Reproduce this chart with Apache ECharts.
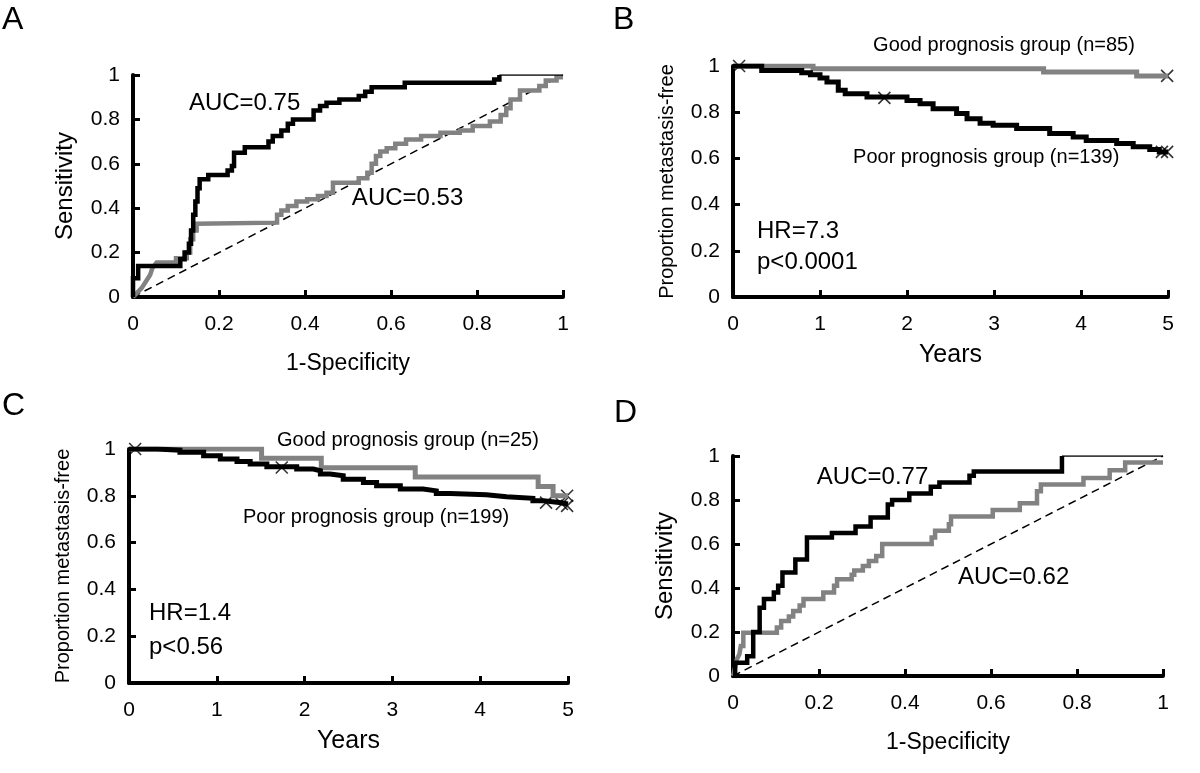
<!DOCTYPE html>
<html>
<head>
<meta charset="utf-8">
<script src="https://cdn.jsdelivr.net/npm/echarts@6/dist/echarts.min.js"></script>
<style>
html,body{margin:0;padding:0;background:#fff;}
#c{width:1200px;height:773px;}
</style>
</head>
<body>
<div id="c"></div>
<script>
// ---------- DATA ----------
// Panel A: ROC curves (1-Specificity, Sensitivity)
const rocA_black = [[0,0],[0,0.085],[0.012,0.085],[0.012,0.14],[0.11,0.14],[0.11,0.17],[0.12,0.17],[0.12,0.2],[0.13,0.2],[0.13,0.24],[0.135,0.24],[0.135,0.3],[0.14,0.3],[0.14,0.37],[0.145,0.37],[0.145,0.43],[0.15,0.43],[0.15,0.49],[0.155,0.49],[0.155,0.53],[0.175,0.53],[0.175,0.55],[0.22,0.55],[0.22,0.57],[0.23,0.57],[0.23,0.59],[0.235,0.59],[0.235,0.65],[0.26,0.65],[0.26,0.675],[0.315,0.675],[0.315,0.7],[0.325,0.7],[0.325,0.725],[0.345,0.725],[0.345,0.75],[0.36,0.75],[0.36,0.78],[0.372,0.78],[0.372,0.8],[0.42,0.8],[0.42,0.84],[0.435,0.84],[0.435,0.86],[0.45,0.86],[0.45,0.875],[0.48,0.875],[0.48,0.89],[0.525,0.89],[0.525,0.905],[0.54,0.905],[0.54,0.925],[0.555,0.925],[0.555,0.945],[0.632,0.945],[0.632,0.965],[0.84,0.965],[0.84,0.98],[0.852,0.98],[0.852,1.0]];
const rocA_blackTail = [[0.852,1.0],[1,1]];
const rocA_gray = [[0,0],[0.01,0.02],[0.02,0.04],[0.03,0.07],[0.04,0.1],[0.045,0.13],[0.055,0.155],[0.1,0.155],[0.1,0.175],[0.125,0.175],[0.125,0.2],[0.133,0.2],[0.133,0.26],[0.14,0.26],[0.14,0.3],[0.148,0.3],[0.148,0.33],[0.335,0.335],[0.335,0.37],[0.345,0.37],[0.345,0.39],[0.36,0.39],[0.36,0.41],[0.38,0.41],[0.38,0.43],[0.405,0.43],[0.405,0.44],[0.43,0.44],[0.43,0.455],[0.45,0.455],[0.45,0.47],[0.465,0.47],[0.465,0.515],[0.525,0.515],[0.525,0.535],[0.545,0.535],[0.545,0.56],[0.555,0.56],[0.555,0.6],[0.565,0.6],[0.565,0.635],[0.575,0.635],[0.575,0.655],[0.59,0.655],[0.59,0.67],[0.61,0.67],[0.61,0.69],[0.635,0.69],[0.635,0.71],[0.67,0.71],[0.67,0.725],[0.715,0.725],[0.715,0.74],[0.76,0.74],[0.76,0.75],[0.79,0.75],[0.79,0.77],[0.83,0.77],[0.83,0.79],[0.855,0.79],[0.855,0.82],[0.868,0.82],[0.868,0.85],[0.878,0.85],[0.878,0.89],[0.9,0.89],[0.9,0.93],[0.945,0.93],[0.945,0.95],[0.96,0.95],[0.96,0.975],[0.985,0.975],[0.985,0.99],[1,0.99]];
const diagonal = [[0,0],[1,1]];

// Panel B: Kaplan-Meier (Years, proportion metastasis-free)
const kmB_poor = [[0,1],[0.33,0.981],[0.79,0.971],[0.89,0.962],[1.0,0.948],[1.08,0.931],[1.21,0.895],[1.29,0.88],[1.54,0.866],[2.0,0.851],[2.15,0.837],[2.3,0.815],[2.57,0.794],[2.69,0.772],[2.84,0.752],[2.99,0.743],[3.26,0.729],[3.64,0.708],[3.91,0.693],[4.06,0.678],[4.41,0.664],[4.6,0.65],[4.79,0.638],[4.9,0.628],[5.0,0.628]];
const kmB_good = [[0,1],[0.92,0.988],[3.57,0.974],[4.64,0.957],[5,0.957]];
const kmB_poorCensor = [[0.07,1],[1.74,0.862],[4.93,0.628],[4.99,0.628]];
const kmB_goodCensor = [[4.99,0.957]];

// Panel C
const kmC_poor = [[0,1],[0.32,0.995],[0.58,0.986],[0.85,0.971],[1.04,0.957],[1.23,0.947],[1.38,0.936],[1.57,0.924],[1.91,0.914],[2.1,0.907],[2.18,0.893],[2.29,0.886],[2.44,0.871],[2.67,0.857],[2.82,0.843],[3.09,0.829],[3.35,0.821],[3.5,0.81],[3.66,0.804],[4.07,0.796],[4.3,0.789],[4.6,0.779],[4.72,0.771],[4.9,0.765],[5,0.765]];
const kmC_good = [[0,1],[1.51,0.96],[2.19,0.92],[3.26,0.88],[4.66,0.84],[4.83,0.80],[5,0.80]];
const kmC_poorCensor = [[0.07,1],[1.74,0.921],[4.75,0.771],[4.93,0.765],[4.99,0.757]];
const kmC_goodCensor = [[4.99,0.80]];

// Panel D: ROC
const rocD_black = [[0,0],[0.005,0],[0.005,0.06],[0.033,0.06],[0.033,0.09],[0.047,0.09],[0.047,0.2],[0.062,0.2],[0.062,0.31],[0.072,0.31],[0.072,0.35],[0.095,0.35],[0.095,0.38],[0.105,0.38],[0.105,0.41],[0.115,0.41],[0.115,0.47],[0.145,0.47],[0.145,0.53],[0.172,0.53],[0.172,0.63],[0.23,0.63],[0.23,0.65],[0.285,0.65],[0.285,0.68],[0.32,0.68],[0.32,0.72],[0.36,0.72],[0.36,0.78],[0.37,0.78],[0.37,0.8],[0.41,0.8],[0.41,0.83],[0.46,0.83],[0.46,0.86],[0.48,0.86],[0.48,0.88],[0.55,0.88],[0.55,0.91],[0.56,0.91],[0.56,0.93],[0.765,0.93],[0.765,1]];
const rocD_blackTail = [[0.765,1],[1,1]];
const rocD_gray = [[0,0],[0.005,0.04],[0.009,0.076],[0.015,0.1],[0.018,0.136],[0.024,0.136],[0.024,0.197],[0.102,0.197],[0.102,0.22],[0.112,0.22],[0.112,0.25],[0.13,0.25],[0.13,0.27],[0.14,0.27],[0.14,0.295],[0.155,0.295],[0.155,0.32],[0.164,0.32],[0.164,0.35],[0.21,0.35],[0.21,0.38],[0.235,0.38],[0.235,0.41],[0.242,0.41],[0.242,0.44],[0.276,0.44],[0.276,0.46],[0.282,0.46],[0.282,0.48],[0.302,0.48],[0.302,0.5],[0.316,0.5],[0.316,0.523],[0.333,0.523],[0.333,0.545],[0.347,0.545],[0.347,0.6],[0.462,0.6],[0.462,0.63],[0.47,0.63],[0.47,0.66],[0.502,0.66],[0.502,0.69],[0.507,0.69],[0.507,0.725],[0.604,0.725],[0.604,0.755],[0.667,0.755],[0.667,0.785],[0.707,0.785],[0.707,0.84],[0.716,0.84],[0.716,0.87],[0.815,0.87],[0.815,0.9],[0.876,0.9],[0.876,0.935],[0.912,0.935],[0.912,0.97],[1,0.97]];

// Tick values
const rocTicks = [0, 0.2, 0.4, 0.6, 0.8, 1];
const yearTicks = [0, 1, 2, 3, 4, 5];

// Text annotations: [panelIndex, x, y, text, fontSize]
const annotations = [
  [0, 0.13, 0.874, 'AUC=0.75', 24],
  [0, 0.509, 0.446, 'AUC=0.53', 24],
  [1, 1.61, 1.087, 'Good prognosis group (n=85)', 20],
  [1, 1.38, 0.602, 'Poor prognosis group (n=139)', 20],
  [1, 0.276, 0.286, 'HR=7.3', 24],
  [1, 0.276, 0.152, 'p<0.0001', 24],
  [2, 1.686, 1.038, 'Good prognosis group (n=25)', 20],
  [2, 1.298, 0.709, 'Poor prognosis group (n=199)', 20],
  [2, 0.228, 0.299, 'HR=1.4', 24],
  [2, 0.228, 0.154, 'p<0.56', 24],
  [3, 0.195, 0.905, 'AUC=0.77', 24],
  [3, 0.523, 0.45, 'AUC=0.62', 24]
];
const panelLetters = ['A', 'B', 'C', 'D'];

// ---------- CHART ----------
const FONT = '"Liberation Sans", Arial, sans-serif';
const BLACK = '#000000';
const GRAY = '#828282';
const chart = echarts.init(document.getElementById('c'), null, {renderer: 'canvas'});

const grids = [
  {left: 133, top: 75, width: 430, height: 222},
  {left: 733, top: 66, width: 435, height: 231},
  {left: 129, top: 449, width: 439, height: 234},
  {left: 733, top: 456, width: 430, height: 220}
];
const kinds = ['roc', 'km', 'km', 'roc'];

function xAxis(i) {
  const roc = kinds[i] === 'roc';
  const ticks = roc ? rocTicks : yearTicks;
  return {
    type: 'value', gridIndex: i, min: ticks[0], max: ticks[ticks.length - 1],
    interval: ticks[1] - ticks[0],
    name: roc ? '1-Specificity' : 'Years', nameLocation: 'middle',
    nameGap: roc ? 55 : 46,
    nameTextStyle: {fontFamily: FONT, fontSize: roc ? 23 : 25, color: BLACK},
    axisLine: {show: true, onZero: false, lineStyle: {color: BLACK, width: 4}},
    axisTick: {show: true, inside: true, length: 7, lineStyle: {color: BLACK, width: 3}},
    axisLabel: {fontFamily: FONT, fontSize: 21, color: BLACK, margin: 17},
    splitLine: {show: false}
  };
}
function yAxis(i) {
  const roc = kinds[i] === 'roc';
  return {
    type: 'value', gridIndex: i, min: 0, max: 1, interval: 0.2,
    name: roc ? 'Sensitivity' : 'Proportion metastasis-free', nameLocation: 'middle',
    nameGap: 56, nameRotate: 90,
    nameTextStyle: {fontFamily: FONT, fontSize: roc ? 24 : 20, color: BLACK},
    axisLine: {show: true, onZero: false, lineStyle: {color: BLACK, width: 4}},
    axisTick: {show: true, inside: true, length: 7, lineStyle: {color: BLACK, width: 3}},
    axisLabel: {fontFamily: FONT, fontSize: 21, color: BLACK, margin: 13},
    splitLine: {show: false}
  };
}

function line(i, data, color, width, extra) {
  return Object.assign({
    type: 'line', xAxisIndex: i, yAxisIndex: i, data: data,
    showSymbol: false, symbol: 'none', silent: true, animation: false,
    lineStyle: {color: color, width: width, cap: 'butt', join: 'miter'}
  }, extra || {});
}
const XPATH = 'path://M0,0L10,10M10,0L0,10';
function censor(i, data) {
  return {
    type: 'scatter', xAxisIndex: i, yAxisIndex: i, data: data, silent: true, animation: false,
    symbol: XPATH, symbolSize: 12, clip: false,
    itemStyle: {color: 'none', borderColor: BLACK, borderWidth: 1.6}
  };
}

const series = [
  // A
  line(0, diagonal, BLACK, 1.5, {lineStyle: {color: BLACK, width: 1.5, type: [8, 5]}}),
  line(0, rocA_gray, GRAY, 4.5),
  line(0, rocA_blackTail, BLACK, 1.5),
  line(0, rocA_black, BLACK, 4.5),
  // B
  line(1, kmB_good, GRAY, 5, {step: 'end'}),
  line(1, kmB_poor, BLACK, 5, {step: 'end'}),
  censor(1, kmB_goodCensor),
  censor(1, kmB_poorCensor),
  // C
  line(2, kmC_good, GRAY, 5, {step: 'end'}),
  line(2, kmC_poor, BLACK, 5, {step: 'end'}),
  censor(2, kmC_goodCensor),
  censor(2, kmC_poorCensor),
  // D
  line(3, diagonal, BLACK, 1.5, {lineStyle: {color: BLACK, width: 1.5, type: [8, 5]}}),
  line(3, rocD_gray, GRAY, 4.5),
  line(3, rocD_blackTail, BLACK, 1.5),
  line(3, rocD_black, BLACK, 4.5)
];

const option = {
  backgroundColor: '#ffffff',
  animation: false,
  grid: grids,
  xAxis: [0, 1, 2, 3].map(xAxis),
  yAxis: [0, 1, 2, 3].map(yAxis),
  series: series
};
chart.setOption(option);

// place annotation texts at data coordinates
const letterPos = [[2, 4], [613, 4], [2, 390], [614, 397]];
const graphics = [];
annotations.forEach(function (a) {
  const p = chart.convertToPixel({xAxisIndex: a[0], yAxisIndex: a[0]}, [a[1], a[2]]);
  graphics.push({
    type: 'text', x: p[0], y: p[1], silent: true,
    style: {text: a[3], font: a[4] + 'px ' + FONT, fill: BLACK, align: 'left', verticalAlign: 'middle'}
  });
});
panelLetters.forEach(function (L, k) {
  graphics.push({
    type: 'text', x: letterPos[k][0], y: letterPos[k][1], silent: true,
    style: {text: L, font: '32px ' + FONT, fill: BLACK, align: 'left', verticalAlign: 'top'}
  });
});
chart.setOption({graphic: graphics});
</script>
</body>
</html>
